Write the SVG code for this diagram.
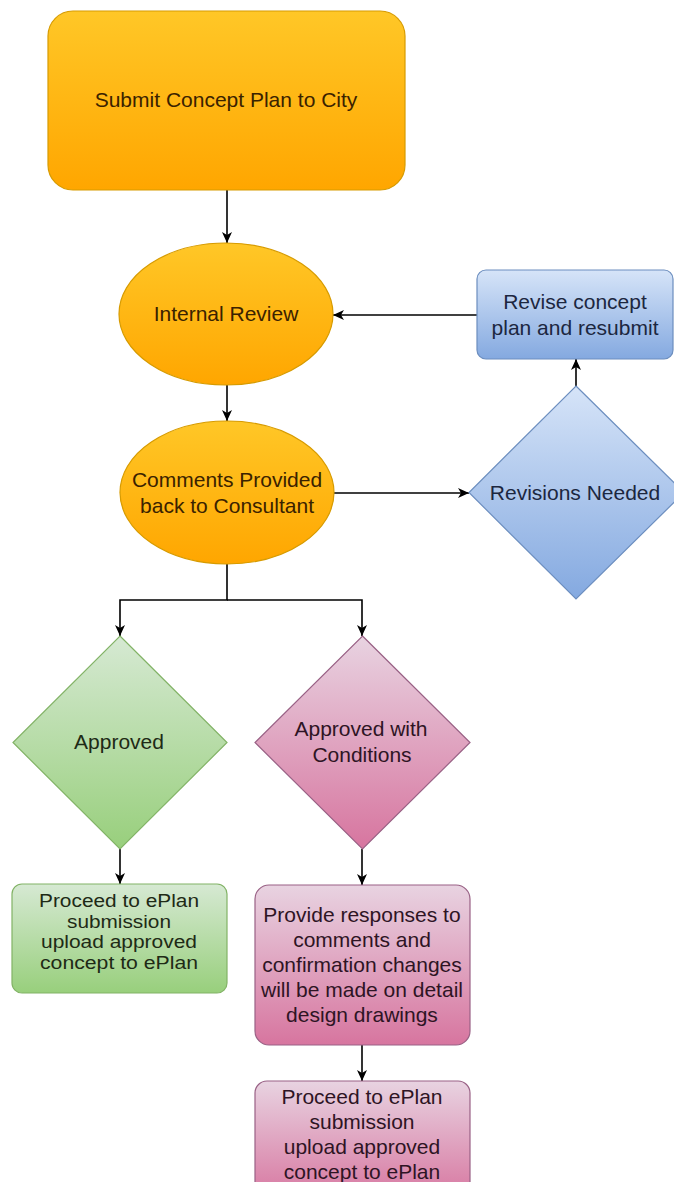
<svg xmlns="http://www.w3.org/2000/svg" width="674" height="1182" viewBox="0 0 674 1182">
<defs>
<linearGradient id="gOrange" x1="0" y1="0" x2="0" y2="1"><stop offset="0" stop-color="#ffc727"/><stop offset="1" stop-color="#ffa600"/></linearGradient>
<linearGradient id="gBlue" x1="0" y1="0" x2="0" y2="1"><stop offset="0" stop-color="#d6e4f8"/><stop offset="1" stop-color="#84a9e0"/></linearGradient>
<linearGradient id="gGreen" x1="0" y1="0" x2="0" y2="1"><stop offset="0" stop-color="#d6e9d3"/><stop offset="1" stop-color="#98cf7c"/></linearGradient>
<linearGradient id="gPink" x1="0" y1="0" x2="0" y2="1"><stop offset="0" stop-color="#e8d3e1"/><stop offset="1" stop-color="#d7759f"/></linearGradient>
<marker id="arr" markerWidth="12" markerHeight="10" refX="11" refY="5" orient="auto" markerUnits="userSpaceOnUse">
<path d="M0,0 L11,5 L0,10 L3,5 z" fill="#000"/>
</marker>
<style>
.t{font-family:"Liberation Sans",Arial,sans-serif;font-size:21px;text-anchor:middle}
.s{font-size:17.5px}
.o{fill:url(#gOrange);stroke:#d79b00;stroke-width:1.2}
.b{fill:url(#gBlue);stroke:#6c8ebf;stroke-width:1.2}
.g{fill:url(#gGreen);stroke:#82b366;stroke-width:1.2}
.p{fill:url(#gPink);stroke:#996185;stroke-width:1.2}
.to{fill:#3a2200}
.tb{fill:#1c2740}
.tg{fill:#1e2a16}
.tp{fill:#2e1424}
.c{fill:none;stroke:#000;stroke-width:1.6}
</style>
</defs>
<rect width="674" height="1182" fill="#fff"/>
<g id="connectors">
<path class="c" d="M227,190 V243" marker-end="url(#arr)"/>
<path class="c" d="M477,315 H333" marker-end="url(#arr)"/>
<path class="c" d="M227,385 V421" marker-end="url(#arr)"/>
<path class="c" d="M334,493 H469" marker-end="url(#arr)"/>
<path class="c" d="M576,386 V359" marker-end="url(#arr)"/>
<path class="c" d="M227,564 V600 H120 V636" marker-end="url(#arr)"/>
<path class="c" d="M227,600 H362 V636" marker-end="url(#arr)"/>
<path class="c" d="M120,849 V884" marker-end="url(#arr)"/>
<path class="c" d="M362,849 V885" marker-end="url(#arr)"/>
<path class="c" d="M362,1045 V1081" marker-end="url(#arr)"/>
</g>
<g id="submit">
<rect class="o" x="48" y="11" width="357" height="179" rx="25"/>
<text class="t to" x="226" y="107">Submit Concept Plan to City</text>
</g>
<g id="internal-review">
<ellipse class="o" cx="226" cy="314" rx="107" ry="71"/>
<text class="t to" x="226" y="321">Internal Review</text>
</g>
<g id="revise">
<rect class="b" x="477" y="270" width="196" height="89" rx="9"/>
<text class="t tb" x="575" y="309">Revise concept</text>
<text class="t tb" x="575" y="335">plan and resubmit</text>
</g>
<g id="comments">
<ellipse class="o" cx="227" cy="492.5" rx="107" ry="71.5"/>
<text class="t to" x="227" y="487">Comments Provided</text>
<text class="t to" x="227" y="513">back to Consultant</text>
</g>
<g id="revisions-needed">
<polygon class="b" points="576,386 684,492.5 576,599 469,492.5"/>
<text class="t tb" x="575" y="500">Revisions Needed</text>
</g>
<g id="approved">
<polygon class="g" points="120,636 227,742.5 120,849 13,742.5"/>
<text class="t tg" x="119" y="749">Approved</text>
</g>
<g id="approved-conditions">
<polygon class="p" points="362.5,636 470,742.5 362.5,849 255,742.5"/>
<text class="t tp" x="361" y="736">Approved with</text>
<text class="t tp" x="362" y="762">Conditions</text>
</g>
<g id="proceed-green">
<rect class="g" x="12" y="884" width="215" height="109" rx="10"/>
<text class="t s tg" x="119" y="907" textLength="160" lengthAdjust="spacingAndGlyphs">Proceed to ePlan</text>
<text class="t s tg" x="119" y="927.5" textLength="104" lengthAdjust="spacingAndGlyphs">submission</text>
<text class="t s tg" x="119" y="948" textLength="156" lengthAdjust="spacingAndGlyphs">upload approved</text>
<text class="t s tg" x="119" y="968.5" textLength="158" lengthAdjust="spacingAndGlyphs">concept to ePlan</text>
</g>
<g id="responses">
<rect class="p" x="255" y="885" width="215" height="160" rx="14"/>
<text class="t tp" x="362" y="922">Provide responses to</text>
<text class="t tp" x="362" y="947">comments and</text>
<text class="t tp" x="362" y="972">confirmation changes</text>
<text class="t tp" x="362" y="997">will be made on detail</text>
<text class="t tp" x="362" y="1022">design drawings</text>
</g>
<g id="proceed-pink">
<rect class="p" x="255" y="1081" width="215" height="120" rx="12"/>
<text class="t tp" x="362" y="1104">Proceed to ePlan</text>
<text class="t tp" x="362" y="1129">submission</text>
<text class="t tp" x="362" y="1154">upload approved</text>
<text class="t tp" x="362" y="1179">concept to ePlan</text>
</g>
</svg>
